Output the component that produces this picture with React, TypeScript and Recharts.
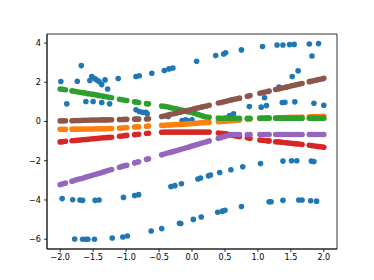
import { ScatterChart, Scatter, XAxis, YAxis, ReferenceArea } from 'recharts';

// shared x positions of the five curve series
const lineX = [
  -2.0, -1.96, -1.92,
  -1.82, -1.78, -1.74, -1.7, -1.66, -1.62, -1.58, -1.54, -1.5, -1.46, -1.42, -1.38, -1.34, -1.3, -1.26, -1.22,
  -1.1, -1.06, -1.02, -0.99,
  -0.87, -0.84, -0.81,
  -0.69, -0.66,
  -0.46, -0.42, -0.38, -0.34, -0.3, -0.26, -0.22, -0.18, -0.14, -0.1, -0.06, -0.02, 0.02, 0.06, 0.1, 0.14, 0.18, 0.22, 0.26,
  0.4, 0.44, 0.48, 0.52, 0.56, 0.6, 0.64, 0.68, 0.72,
  0.84, 0.88,
  1.03, 1.07, 1.11, 1.15, 1.17,
  1.27, 1.31, 1.35, 1.39, 1.43, 1.47, 1.51, 1.55, 1.59, 1.63, 1.67,
  1.78, 1.82, 1.86, 1.9, 1.94, 1.98, 2.0,
];

const orangeY = [
  -0.4, -0.4, -0.4,
  -0.39, -0.39, -0.39, -0.39, -0.38, -0.38, -0.38, -0.38, -0.38, -0.37, -0.37, -0.37, -0.37, -0.37, -0.36, -0.36,
  -0.34, -0.33, -0.32, -0.31,
  -0.28, -0.27, -0.27,
  -0.24, -0.23,
  -0.2, -0.19, -0.18, -0.18, -0.17, -0.16, -0.15, -0.15, -0.14, -0.13, -0.12, -0.11, -0.1, -0.09, -0.08, -0.07, -0.06, -0.05, -0.04,
  -0.01, 0.0, 0.01, 0.02, 0.03, 0.04, 0.05, 0.06, 0.08,
  0.11, 0.12,
  0.15, 0.16, 0.16, 0.17, 0.17,
  0.18, 0.19, 0.19, 0.2, 0.2, 0.21, 0.21, 0.22, 0.22, 0.22, 0.23,
  0.24, 0.24, 0.25, 0.25, 0.25, 0.26, 0.26,
];

const greenY = [
  1.66, 1.64, 1.62,
  1.56, 1.54, 1.51, 1.49, 1.47, 1.45, 1.42, 1.4, 1.38, 1.36, 1.33, 1.31, 1.28, 1.26, 1.23, 1.21,
  1.13, 1.11, 1.08, 1.07,
  1.0, 0.99, 0.97,
  0.91, 0.9,
  0.79, 0.77, 0.75, 0.72, 0.69, 0.66, 0.63, 0.6, 0.57, 0.53, 0.5, 0.47, 0.43, 0.39, 0.35, 0.3, 0.26, 0.23, 0.21,
  0.17, 0.16, 0.16, 0.16, 0.16, 0.16, 0.16, 0.16, 0.16,
  0.16, 0.16,
  0.17, 0.17, 0.17, 0.17, 0.17,
  0.17, 0.17, 0.17, 0.17, 0.17, 0.17, 0.17, 0.17, 0.17, 0.17, 0.17,
  0.17, 0.17, 0.17, 0.17, 0.17, 0.17, 0.17,
];

const redY = [
  -1.04, -1.03, -1.01,
  -0.98, -0.97, -0.96, -0.94, -0.93, -0.92, -0.91, -0.89, -0.88, -0.87, -0.86, -0.84, -0.83, -0.82, -0.81, -0.8,
  -0.75, -0.74, -0.72, -0.71,
  -0.67, -0.66, -0.65,
  -0.61, -0.6,
  -0.55, -0.54, -0.54, -0.54, -0.54, -0.54, -0.54, -0.54, -0.54, -0.54, -0.54, -0.54, -0.54, -0.54, -0.54, -0.54, -0.54, -0.54, -0.54,
  -0.59, -0.6, -0.61, -0.63, -0.66, -0.69, -0.72, -0.75, -0.77,
  -0.83, -0.86,
  -0.94, -0.96, -0.97, -0.99, -0.99,
  -1.03, -1.04, -1.05, -1.07, -1.08, -1.1, -1.11, -1.13, -1.14, -1.15, -1.17,
  -1.21, -1.23, -1.25, -1.27, -1.28, -1.3, -1.31,
];

const purpleY = [
  -3.22, -3.18, -3.14,
  -3.04, -3.0, -2.96, -2.92, -2.89, -2.85, -2.81, -2.77, -2.73, -2.69, -2.65, -2.61, -2.57, -2.53, -2.49, -2.45,
  -2.33, -2.29, -2.25, -2.23,
  -2.11, -2.08, -2.05,
  -1.93, -1.9,
  -1.7, -1.66, -1.62, -1.58, -1.55, -1.51, -1.47, -1.43, -1.39, -1.35, -1.31, -1.27, -1.23, -1.19, -1.15, -1.11, -1.07, -1.03, -0.99,
  -0.86, -0.82, -0.78, -0.74, -0.7, -0.67, -0.66, -0.66, -0.66,
  -0.66, -0.66,
  -0.66, -0.66, -0.66, -0.66, -0.66,
  -0.66, -0.66, -0.66, -0.66, -0.66, -0.66, -0.66, -0.66, -0.66, -0.66, -0.66,
  -0.66, -0.66, -0.66, -0.66, -0.66, -0.66, -0.66,
];

const brownY = [
  0.03, 0.03, 0.04,
  0.04, 0.05, 0.05, 0.05, 0.06, 0.06, 0.06, 0.07, 0.07, 0.07, 0.07, 0.08, 0.08, 0.08, 0.09, 0.09,
  0.1, 0.1, 0.11, 0.11,
  0.12, 0.12, 0.12,
  0.13, 0.14,
  0.25, 0.28, 0.31, 0.35, 0.38, 0.41, 0.44, 0.47, 0.51, 0.54, 0.57, 0.6, 0.63, 0.67, 0.7, 0.73, 0.76, 0.79, 0.83,
  0.94, 0.97, 1.0, 1.03, 1.07, 1.1, 1.13, 1.16, 1.19,
  1.29, 1.32,
  1.44, 1.47, 1.5, 1.53, 1.55,
  1.63, 1.66, 1.69, 1.72, 1.75, 1.78, 1.82, 1.85, 1.88, 1.91, 1.94,
  2.03, 2.06, 2.09, 2.12, 2.15, 2.18, 2.2,
];

// scattered blue samples
const blueX = [
  -1.99, -1.74, -1.68, -1.55, -1.52, -1.47, -1.44, -1.41, -1.37, -1.32, -1.28, -1.12, -0.85, -0.8, -0.61, -0.42, -0.35, -0.29,
  0.07, 0.36, 0.48, 0.51, 0.75, 1.07, 1.29, 1.38, 1.48, 1.55, 1.78, 1.92, 1.82, 1.52, 1.61, 1.32, 1.1,
  -1.9, -1.61, -1.5, -1.37, -1.25, 0.87, 1.05, 1.13, 1.37, 1.41, 1.56, 1.85, 2.0,
  -0.85, -0.8, -0.75, -0.7, -0.68, -0.36, -0.15, -0.1, -0.07, 0.0, 0.51, 0.57, 0.63,
  -1.97, -1.81, -1.7, -1.66, -1.47, -1.41, -1.04, -0.87, -0.81, -0.32, -0.26, -0.16, 0.09, 0.13, 0.25, 0.28, 0.42, 0.59, 0.77,
  1.04, 1.38, 1.51, 1.59, 1.81, 1.85,
  -1.78, -1.66, -1.61, -1.58, -1.48, -1.21, -1.05, -0.98, -0.62, -0.46, -0.19, -0.17, 0.02, 0.14, 0.39, 0.46, 0.5, 0.75,
  1.17, 1.2, 1.38, 1.62, 1.67, 1.8, 1.89,
];

const blueY = [
  2.04, 2.05, 2.85, 2.09, 2.29, 2.17, 2.1, 2.04, 1.88, 2.12, 1.66, 2.19, 2.29, 2.33, 2.46, 2.6, 2.68, 2.73,
  3.07, 3.36, 3.44, 3.5, 3.65, 3.82, 3.9, 3.9, 3.92, 3.93, 3.95, 3.97, 3.34, 2.29, 2.58, 1.75, 1.21,
  0.9, 1.02, 1.02, 0.97, 0.9, 0.76, 0.73, 0.81, 0.97, 0.98, 1.0, 0.93, 0.83,
  0.6, 0.51, 0.47, 0.47, 0.39, 0.25, 0.05, 0.08, 0.05, 0.08, 0.18, 0.3, 0.39,
  -3.93, -3.99, -4.0, -4.02, -4.02, -4.0, -3.87, -3.77, -3.73, -3.32, -3.27, -3.17, -2.93, -2.88, -2.77, -2.73, -2.6, -2.46, -2.31,
  -2.14, -2.02, -2.0, -2.0, -2.02, -2.04,
  -5.99, -6.0, -6.0, -6.0, -6.0, -5.94, -5.89, -5.84, -5.58, -5.46, -5.19, -5.2, -4.99, -4.87, -4.63, -4.57, -4.53, -4.33,
  -4.09, -4.09, -4.02, -4.0, -4.0, -4.04, -4.06,
];

const xTicks = [-2, -1.5, -1, -0.5, 0, 0.5, 1, 1.5, 2];
const yTicks = [-6, -4, -2, 0, 2, 4];

const toPoints = (xs: number[], ys: number[]) => xs.map((x, i) => ({ x, y: ys[i] }));

const series = [
  { name: 'blue', color: '#1f77b4', data: toPoints(blueX, blueY) },
  { name: 'orange', color: '#ff7f0e', data: toPoints(lineX, orangeY) },
  { name: 'green', color: '#2ca02c', data: toPoints(lineX, greenY) },
  { name: 'red', color: '#d62728', data: toPoints(lineX, redY) },
  { name: 'purple', color: '#9467bd', data: toPoints(lineX, purpleY) },
  { name: 'brown', color: '#8c564b', data: toPoints(lineX, brownY) },
];

const fmt = (v: number, digits: number) => {
  const s = Math.abs(v).toFixed(digits);
  return v < 0 ? `\u2212${s}` : s;
};

const tickStyle = { fontSize: 8.1, fill: '#000', fontFamily: 'DejaVu Sans' };

export default function App() {
  return (
    <div style={{ position: 'absolute', left: 0, top: 0, width: 374, height: 280, background: '#fff' }}>
      <ScatterChart width={374} height={280} margin={{ top: 34, right: 37, bottom: 0, left: 0 }}>
        <XAxis
          type='number'
          dataKey='x'
          domain={[-2.2, 2.2]}
          allowDataOverflow
          ticks={xTicks}
          tickFormatter={(v: number) => fmt(v, 1)}
          height={31}
          tick={tickStyle}
          tickSize={3}
          tickMargin={2}
          axisLine={{ stroke: '#000', strokeWidth: 0.8 }}
          tickLine={{ stroke: '#000', strokeWidth: 0.8 }}
        />
        <YAxis
          type='number'
          dataKey='y'
          domain={[-6.5, 4.46]}
          allowDataOverflow
          ticks={yTicks}
          tickFormatter={(v: number) => fmt(v, 0)}
          width={47}
          tick={tickStyle}
          tickSize={3}
          tickMargin={3}
          axisLine={{ stroke: '#000', strokeWidth: 0.8 }}
          tickLine={{ stroke: '#000', strokeWidth: 0.8 }}
        />
        <ReferenceArea x1={-2.2} x2={2.2} y1={-6.5} y2={4.46} fill='none' stroke='#000' strokeWidth={0.8} />
        {series.map((s) => (
          <Scatter
            key={s.name}
            data={s.data}
            isAnimationActive={false}
            shape={(p: any) => <circle cx={p.cx} cy={p.cy} r={2.8} fill={s.color} />}
          />
        ))}
      </ScatterChart>
    </div>
  );
}
